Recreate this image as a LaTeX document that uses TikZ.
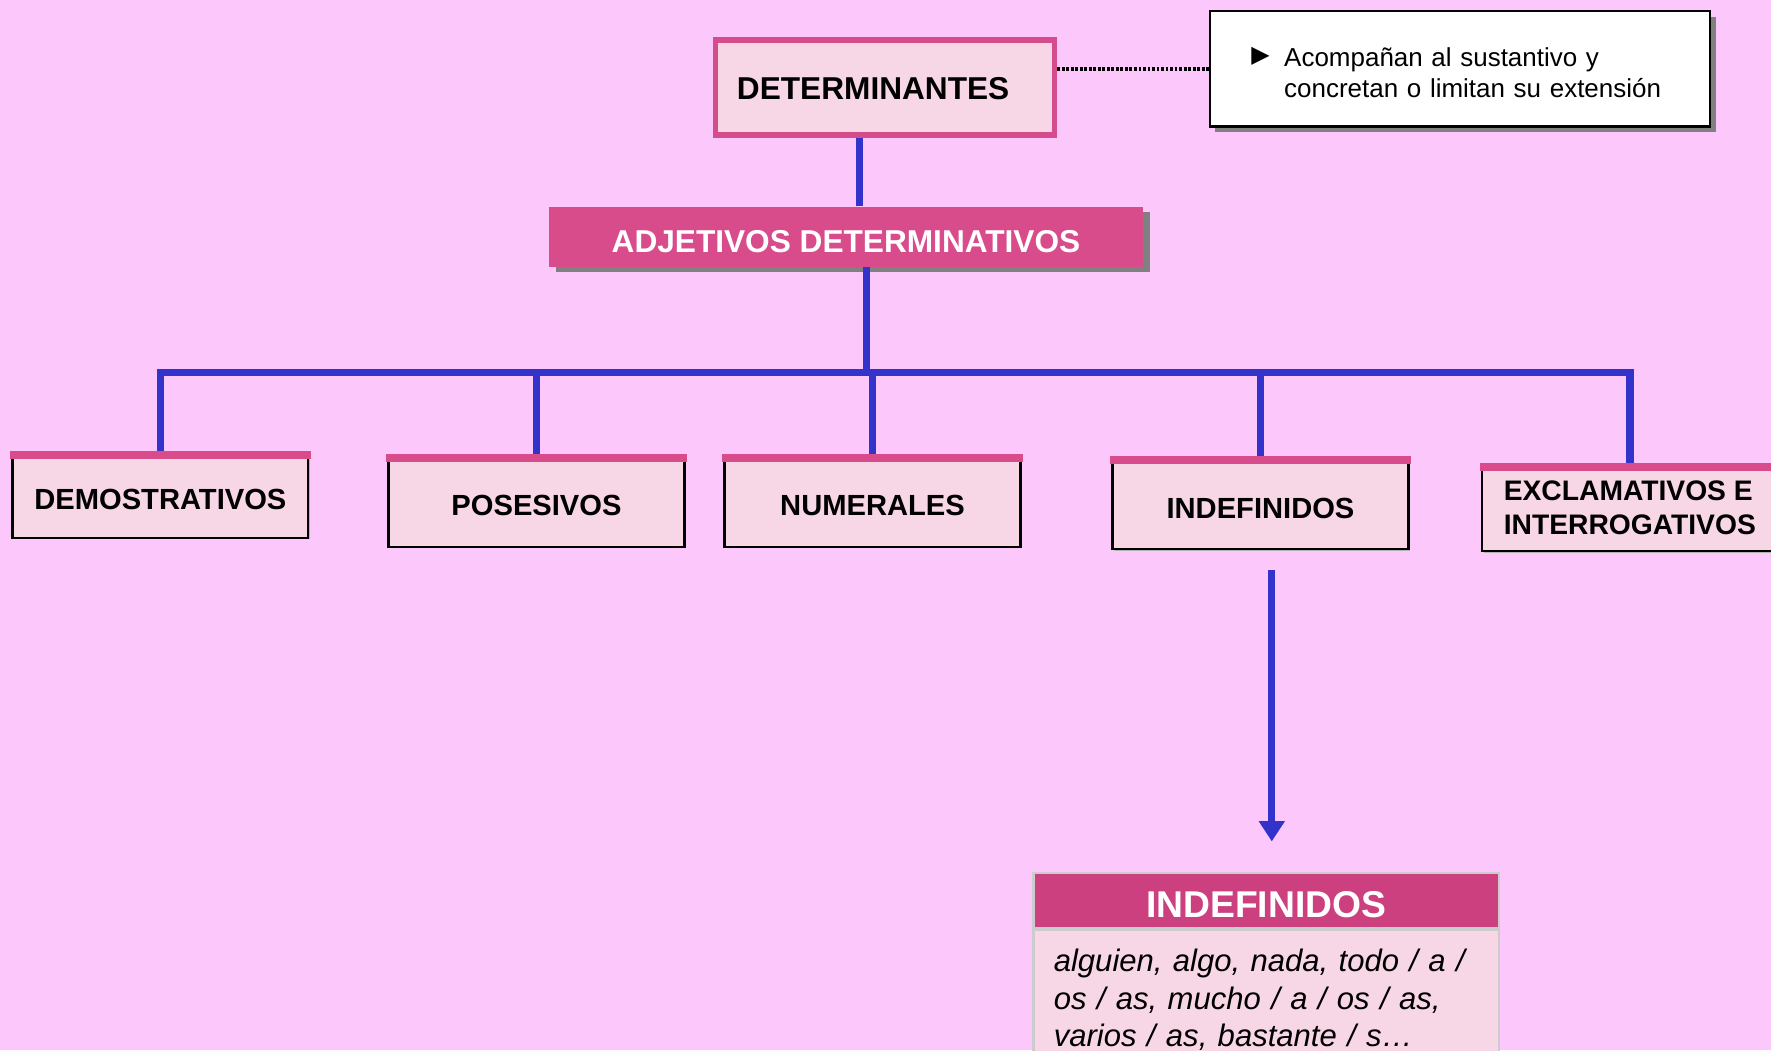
\documentclass[tikz,border=0pt]{standalone}
\usepackage{fontspec}
\setmainfont{Liberation Sans}
\newfontfamily\symfont{DejaVu Sans}
\usetikzlibrary{arrows.meta,shadows,calc}
\definecolor{bgc}{RGB}{252,200,252}
\definecolor{pinkfill}{RGB}{247,214,230}
\definecolor{magline}{RGB}{212,76,140}
\definecolor{magfill}{RGB}{216,76,140}
\definecolor{hdrfill}{RGB}{204,64,128}
\definecolor{linkblue}{RGB}{51,51,204}
\definecolor{shadowgray}{RGB}{128,128,128}
\tikzset{
  bigbold/.style={font=\fontsize{28}{32}\selectfont\bfseries},
  childbox/.style={draw=black, line width=2pt, fill=pinkfill, minimum width=262pt,
    font=\fontsize{25.8}{30}\selectfont\bfseries, text height=26.5pt, text depth=0pt,
    general shadow={shadow xshift=1.5pt, shadow yshift=-1.5pt, fill=shadowgray!60, draw=none}},
  band/.style={fill=magfill},
  link/.style={draw=linkblue, line width=6.5pt, line join=miter},
  arrowlink/.style={draw=linkblue, line width=6.5pt, -{Triangle[width=22pt,length=18pt]}}
}
\begin{document}
\begin{tikzpicture}[x=1pt,y=-1pt]
\path[use as bounding box] (0,0) rectangle (1568,930);
\clip (0,0) rectangle (1568,930);
\fill[bgc] (0,0) rectangle (1568,930);

% top nodes
\node[bigbold, draw=magline, line width=5pt, fill=pinkfill, text width=262pt, inner xsep=19pt,
  align=left, minimum height=84pt, text height=22pt, text depth=0pt] (det) at (783.5,77.5) {DETERMINANTES};

\node[draw=black, line width=2pt, fill=white, text width=443pt, inner xsep=0pt, align=left,
  minimum height=102pt, font=\fontsize{23}{28}\selectfont,
  general shadow={shadow xshift=5pt, shadow yshift=-5pt, fill=shadowgray, draw=none}]
  (note) at (1292.5,61)
  {\rule{0pt}{23.5pt}\hspace*{37pt}\makebox[29pt][l]{\raisebox{3pt}{\symfont\fontsize{21}{21}\selectfont ▶}}Acompañan al sustantivo y\\\hspace*{66pt}concretan o limitan su extensión};

\node[bigbold, text=white, fill=magfill, minimum width=526pt, minimum height=53pt, inner sep=0pt,
  text height=28pt, text depth=0pt,
  general shadow={shadow xshift=6pt, shadow yshift=-5pt, fill=shadowgray, draw=none}]
  (adj) at (749,209.5) {ADJETIVOS DETERMINATIVOS};

% children
\node[childbox, minimum height=76pt] (d1) at (142,438) {DEMOSTRATIVOS};
\node[childbox, minimum height=81pt] (d2) at (475,443.5) {POSESIVOS};
\node[childbox, minimum height=81pt] (d3) at (772.5,443.5) {NUMERALES};
\node[childbox, minimum height=81pt] (d4) at (1116,445.5) {INDEFINIDOS};
\node[childbox, minimum height=77pt, align=left, text height=, text depth=,
  font=\fontsize{25}{30}\selectfont\bfseries] (d5) at (1443,449.5)
  {EXCLAMATIVOS E\\INTERROGATIVOS};

\foreach \n in {d1,d2,d3,d4,d5}
  \fill[band] ([xshift=-1pt]\n.north west) rectangle ([xshift=1pt,yshift=-7pt]\n.north east);

% bottom box
\node[fill=hdrfill, draw=black!20, line width=2pt, minimum width=412pt, minimum height=49pt,
  text height=29.6pt, text depth=0pt,
  text=white, font=\fontsize{33}{38}\selectfont\bfseries] (ihead) at (1121,797.5) {INDEFINIDOS};
\node[anchor=north, fill=pinkfill, draw=black!20, line width=2pt, text width=376pt, inner xsep=18pt,
  inner ysep=17pt, align=left, font=\fontsize{27.5}{33.5}\selectfont\itshape, yshift=1pt] (ibody) at (ihead.south)
  {alguien, algo, nada, todo / a /\\ os / as, mucho / a / os / as,\\ varios / as, bastante / s…\\ \strut};

% connectors
\draw[black, line width=3.5pt, dash pattern=on 2.5pt off 1.5pt] (note.west -| det.east) -- (note.west);
\coordinate (bus) at (767,330);
\draw[link] ([xshift=-22.5pt]det.south) -- ([xshift=-22.5pt]det.south |- adj.north);
\draw[link] ([xshift=18pt]adj.south) -- (bus);
\draw[link] (d1.north) -- (d1.north |- bus) -- (d5.north |- bus) -- (d5.north);
\draw[link] (d2.north) -- (d2.north |- bus);
\draw[link] (d3.north) -- (d3.north |- bus);
\draw[link] (d4.north) -- (d4.north |- bus);
\draw[arrowlink, shorten <=18pt, shorten >=27pt] ([xshift=10pt]d4.south) -- ([xshift=10pt]d4.south |- ihead.north);
\end{tikzpicture}
\end{document}
